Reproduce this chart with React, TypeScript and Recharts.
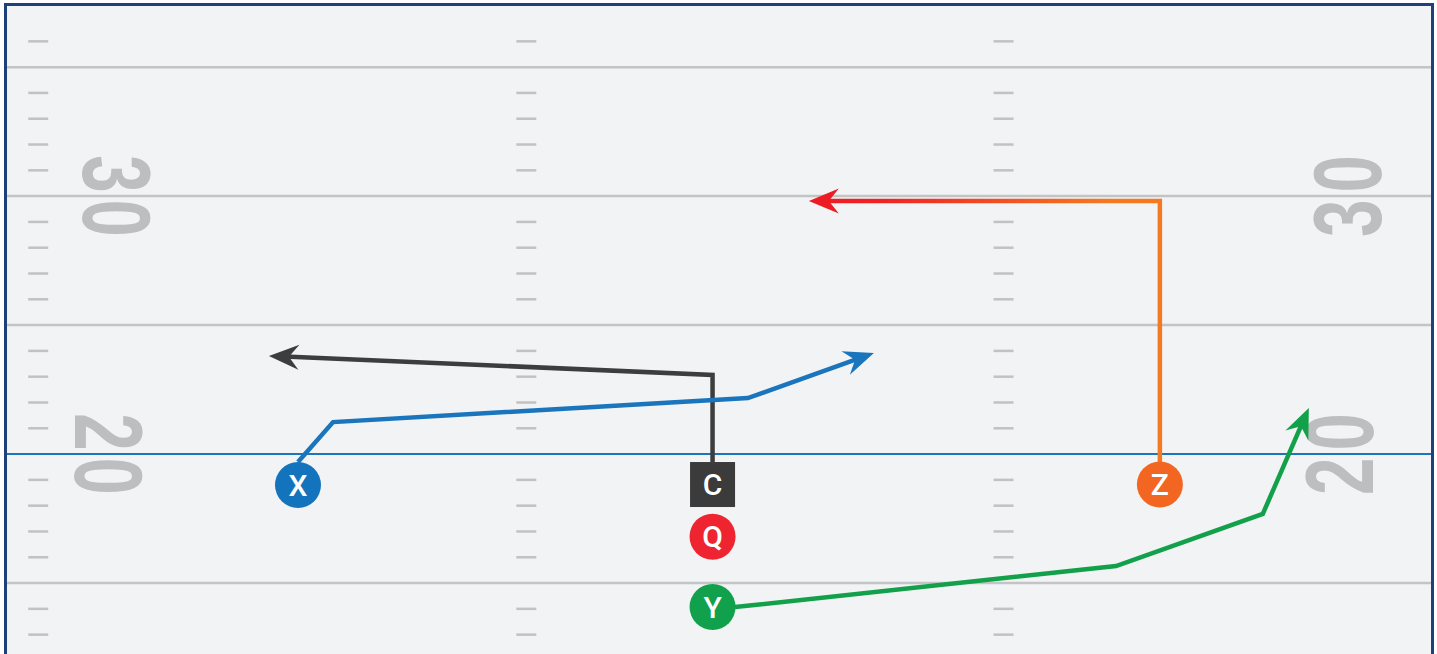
import React from 'react';
import { ComposedChart, XAxis, YAxis, Line, Scatter, ReferenceLine } from 'recharts';

// ---------- data (field units: yards) ----------
const yardLines = [15, 25, 30, 35];
const lineOfScrimmage = 20;
const hashColumns = [1.48, 20.4, 38.9];
const hashYards = [13, 14, 16, 17, 18, 19, 21, 22, 23, 24, 26, 27, 28, 29, 31, 32, 33, 34, 36];

const yardNumbers = [
  { x: 4.53, y: 30, label: '30', side: 'left' },
  { x: 4.22, y: 20, label: '20', side: 'left' },
  { x: 52.23, y: 30, label: '30', side: 'right' },
  { x: 51.92, y: 20, label: '20', side: 'right' },
];

const players = [
  { x: 11.55, y: 18.8, label: 'X' },
  { x: 27.62, y: 18.82, label: 'C' },
  { x: 27.62, y: 16.8, label: 'Q' },
  { x: 27.62, y: 14.07, label: 'Y' },
  { x: 44.96, y: 18.82, label: 'Z' },
];

const routeX = [
  { x: 11.55, y: 19.69 },
  { x: 12.91, y: 21.24 },
  { x: 28.99, y: 22.17 },
  { x: 33.51, y: 23.79 },
];
const routeC = [
  { x: 27.62, y: 19.69 },
  { x: 27.62, y: 23.07 },
  { x: 10.81, y: 23.79 },
];
const routeZ = [
  { x: 44.96, y: 19.69 },
  { x: 44.96, y: 29.81 },
  { x: 31.74, y: 29.81 },
];
const routeY = [
  { x: 28.49, y: 14.07 },
  { x: 43.26, y: 15.66 },
  { x: 48.95, y: 17.68 },
  { x: 50.58, y: 21.43 },
];

// ---------- layout / style ----------
const CHART_W = 1437;
const CHART_H = 654;
const MARGIN = { top: 6, right: 6, bottom: 0, left: 7 };
const X_DOMAIN: [number, number] = [0.27, 55.47];
const Y_DOMAIN: [number, number] = [12.25, 37.37];
const PX_X = (CHART_W - MARGIN.left - MARGIN.right) / (X_DOMAIN[1] - X_DOMAIN[0]);
const PX_Y = (CHART_H - MARGIN.top - MARGIN.bottom) / (Y_DOMAIN[1] - Y_DOMAIN[0]);

const FIELD_BG = '#f1f3f5';
const BORDER = '#1f4079';
const YARD_LINE = '#c3c4c6';
const HASH = '#c1c2c4';
const LOS_BLUE = '#1c75bc';
const NUMBER_GRAY = '#bdbec0';

const playerStyle: Record<string, { fill: string; square?: boolean }> = {
  X: { fill: '#1473bd' },
  C: { fill: '#3b3b3b', square: true },
  Q: { fill: '#ee2530' },
  Y: { fill: '#11a04b' },
  Z: { fill: '#f36621' },
};

const hashData = hashColumns.flatMap((x) => hashYards.map((y) => ({ x, y })));

const NUM_FS = 96;
const NUM_SX = 0.7;
const NUM_LS = 10;

function HashMark(props: any) {
  const { cx, cy } = props;
  return <rect x={cx - 10} y={cy - 1.25} width={20} height={2.5} fill={HASH} />;
}

function YardNumber(props: any) {
  const { cx, cy, payload } = props;
  const rot = payload.side === 'left' ? 90 : -90;
  return (
    <g transform={`translate(${cx},${cy}) rotate(${rot}) scale(${NUM_SX},1)`}>
      <text
        x={NUM_LS / 2}
        y={NUM_FS * 0.35}
        textAnchor="middle"
        fontFamily='"Liberation Sans", Arial, sans-serif'
        fontWeight={700}
        fontSize={NUM_FS}
        letterSpacing={NUM_LS}
        fill={NUMBER_GRAY}
      >
        {payload.label}
      </text>
    </g>
  );
}

function Player(props: any) {
  const { cx, cy, payload } = props;
  const st = playerStyle[payload.label];
  return (
    <g>
      {st.square ? (
        <rect x={cx - 22.5} y={cy - 22.5} width={45} height={45} fill={st.fill} />
      ) : (
        <circle cx={cx} cy={cy} r={23} fill={st.fill} />
      )}
      <text
        x={cx}
        y={cy + 10.5}
        textAnchor="middle"
        fontFamily='Roboto, "Open Sans", sans-serif'
        fontWeight={500}
        fontSize={30}
        fill="#ffffff"
      >
        {payload.label}
      </text>
    </g>
  );
}

function arrowDot(route: { x: number; y: number }[], color: string) {
  return (props: any) => {
    const { cx, cy, index } = props;
    if (index !== route.length - 1) return <g key={`d${index}`} />;
    const prev = route[index - 1];
    const cur = route[index];
    const dx = (cur.x - prev.x) * PX_X;
    const dy = -(cur.y - prev.y) * PX_Y;
    const ang = (Math.atan2(dy, dx) * 180) / Math.PI;
    return (
      <path
        key={`arrow${index}`}
        transform={`translate(${cx},${cy}) rotate(${ang})`}
        d="M10,0 L-20,-12.5 L-10,0 L-20,12.5 Z"
        fill={color}
      />
    );
  };
}

const routes = [
  { name: 'routeC', data: routeC, stroke: '#3d3d3e', head: '#3d3d3e' },
  { name: 'routeX', data: routeX, stroke: '#1a75bc', head: '#1a75bc' },
  { name: 'routeZ', data: routeZ, stroke: 'url(#zGrad)', head: '#ed1c24' },
  { name: 'routeY', data: routeY, stroke: '#12a04a', head: '#12a04a' },
];

export default function App() {
  return (
    <div style={{ position: 'relative', width: CHART_W, height: CHART_H, overflow: 'hidden', background: '#ffffff' }}>
      <style>{`body{margin:0;}`}</style>
      <div
        style={{
          position: 'absolute',
          left: 4,
          top: 3,
          width: 1430,
          height: 800,
          boxSizing: 'border-box',
          border: `3px solid ${BORDER}`,
          background: FIELD_BG,
        }}
      />
      <div style={{ position: 'absolute', left: 0, top: 0 }}>
        <ComposedChart width={CHART_W} height={CHART_H} margin={MARGIN}>
          <defs>
            <linearGradient id="zGrad" x1="0" y1="0" x2="1" y2="0">
              <stop offset="0" stopColor="#ed1c24" />
              <stop offset="0.18" stopColor="#ee2325" />
              <stop offset="0.85" stopColor="#f47920" />
              <stop offset="1" stopColor="#f47920" />
            </linearGradient>
          </defs>
          <XAxis type="number" dataKey="x" domain={X_DOMAIN} allowDataOverflow hide />
          <YAxis type="number" dataKey="y" domain={Y_DOMAIN} allowDataOverflow hide />
          {yardLines.map((y) => (
            <ReferenceLine key={`yl${y}`} y={y} stroke={YARD_LINE} strokeWidth={2.5} />
          ))}
          <ReferenceLine y={lineOfScrimmage} stroke={LOS_BLUE} strokeWidth={2} />
          <Scatter data={hashData} shape={HashMark} isAnimationActive={false} legendType="none" />
          <Scatter data={yardNumbers} shape={YardNumber} isAnimationActive={false} legendType="none" />
          {routes.map((r) => (
            <Line
              key={r.name}
              data={r.data}
              dataKey="y"
              type="linear"
              stroke={r.stroke}
              strokeWidth={4.5}
              strokeLinejoin="miter"
              dot={arrowDot(r.data, r.head)}
              activeDot={false}
              isAnimationActive={false}
              legendType="none"
            />
          ))}
          <Scatter data={players} shape={Player} isAnimationActive={false} legendType="none" />
        </ComposedChart>
      </div>
    </div>
  );
}
